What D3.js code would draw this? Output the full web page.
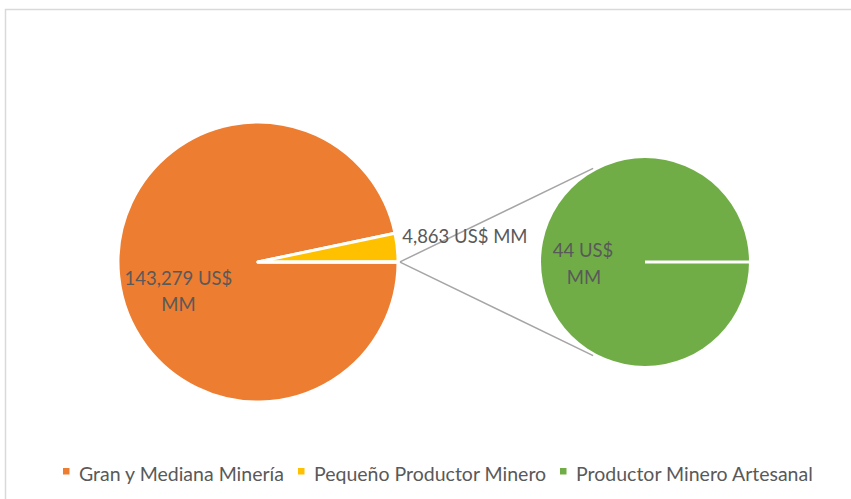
<!DOCTYPE html>
<html>
<head>
<meta charset="utf-8">
<script src="https://cdn.jsdelivr.net/npm/d3@7"></script>
<style>
  html, body { margin: 0; padding: 0; background: #fff; }
  svg { display: block; }
  text { font-family: "Lato", "Open Sans", sans-serif; fill: #595959; }
</style>
</head>
<body>
<svg id="chart" width="851" height="499"></svg>
<script>
// ---- data ----
const categories = ["Gran y Mediana Minería", "Pequeño Productor Minero", "Productor Minero Artesanal"];
const values = [143279, 4863, 44];           // US$ MM
const labels = ["143,279 US$ MM", "4,863 US$ MM", "44 US$ MM"];
const colors = ["#ED7D31", "#FFC000", "#70AD47"];
const secondaryCount = 1;                    // last N points go to the secondary pie

const W = 851, H = 499;
const svg = d3.select("#chart");

// frame
svg.append("rect")
  .attr("x", 5.5).attr("y", 9.5)
  .attr("width", W + 10).attr("height", H + 10)
  .attr("fill", "none").attr("stroke", "#d9d9d9").attr("stroke-width", 1.5);

// main pie data: first points + "other" summary
const mainVals = values.slice(0, values.length - secondaryCount);
const secVals = values.slice(values.length - secondaryCount);
const otherSum = d3.sum(secVals);
const mainData = mainVals.map((v, i) => ({ v, i }));
mainData.push({ v: otherSum, i: -1 });

const total = d3.sum(mainData, d => d.v);
const otherAngle = otherSum / total * 2 * Math.PI;
const start = Math.PI / 2 + otherAngle / 2;

const mainC = { x: 258, y: 262 }, mainR = 140;
const secC = { x: 645, y: 262 }, secR = 104;

const pieMain = d3.pie().value(d => d.v).sort(null)
  .startAngle(start).endAngle(start + 2 * Math.PI);
const arcsMain = pieMain(mainData);

const arcMain = d3.arc().innerRadius(0).outerRadius(mainR);

const gMain = svg.append("g").attr("transform", `translate(${mainC.x},${mainC.y})`);
gMain.selectAll("path").data(arcsMain).enter().append("path")
  .attr("d", arcMain)
  .attr("fill", d => d.data.i >= 0 ? colors[d.data.i] : colors[2])
  .attr("stroke", "#fff").attr("stroke-width", 3).attr("stroke-linejoin", "round");

// secondary pie
const secData = secVals.map((v, k) => ({ v, i: values.length - secondaryCount + k }));
const pieSec = d3.pie().value(d => d.v).sort(null)
  .startAngle(Math.PI / 2).endAngle(Math.PI / 2 + 2 * Math.PI);
const arcsSec = pieSec(secData);
const arcSec = d3.arc().innerRadius(0).outerRadius(secR);
const gSec = svg.append("g").attr("transform", `translate(${secC.x},${secC.y})`);
gSec.selectAll("path").data(arcsSec).enter().append("path")
  .attr("d", arcSec)
  .attr("fill", d => colors[d.data.i])
  .attr("stroke", "none");
// slice boundary line (Excel draws the border of the single slice)
gSec.selectAll("line.sep").data(arcsSec).enter().append("line")
  .attr("x1", 0).attr("y1", 0)
  .attr("x2", d => secR * Math.sin(d.startAngle))
  .attr("y2", d => -secR * Math.cos(d.startAngle))
  .attr("stroke", "#fff").attr("stroke-width", 3);

// connector lines from the "other" slice to the secondary pie
const otherArc = arcsMain[arcsMain.length - 1];
const pAng = [otherArc.startAngle, otherArc.endAngle];
const connAng = 61 * Math.PI / 180;
[-1, 1].forEach((s, k) => {
  const a = pAng[k];
  const x1 = mainC.x + mainR * Math.sin(a) + 2;
  const y1 = mainC.y - mainR * Math.cos(a);
  const x2 = secC.x - (secR + 3) * Math.cos(connAng);
  const y2 = secC.y + s * (secR + 3) * Math.sin(connAng);
  svg.append("line")
    .attr("x1", x1).attr("y1", y1).attr("x2", x2).attr("y2", y2)
    .attr("stroke", "#a5a5a5").attr("stroke-width", 1.5);
});

// labels
const fs = 18.5, lh = 26.5, legFs = 19.5;
function polar(c, r, ang) { return [c.x + r * Math.sin(ang), c.y - r * Math.cos(ang)]; }

// orange (inside, two lines)
{
  const d = arcsMain[0];
  const mid = (d.startAngle + d.endAngle) / 2;
  const [x, y] = polar(mainC, 85, mid);
  const parts = labels[0].split(" US$ ");
  const t = svg.append("text").attr("text-anchor", "middle").attr("font-size", fs)
    .attr("x", x + 5).attr("y", y + 14);
  t.append("tspan").attr("x", x + 5).attr("dy", 0).text(parts[0] + " US$");
  t.append("tspan").attr("x", x + 5).attr("dy", lh).text("MM");
}
// yellow (outside, one line)
{
  const d = arcsMain[1];
  const mid = (d.startAngle + d.endAngle) / 2;
  const [x, y] = polar(mainC, mainR + 5, mid);
  svg.append("text").attr("text-anchor", "start").attr("font-size", fs)
    .attr("x", x).attr("y", y - 4).text(labels[1]);
}
// green (inside secondary pie, two lines)
{
  const d = arcsSec[0];
  const mid = (d.startAngle + d.endAngle) / 2;
  const [x, y] = polar(secC, 62, mid);
  const parts = labels[2].split(" US$ ");
  const t = svg.append("text").attr("text-anchor", "middle").attr("font-size", fs)
    .attr("x", x).attr("y", y - 5);
  t.append("tspan").attr("x", x).attr("dy", 0).text(parts[0] + " US$");
  t.append("tspan").attr("x", x + 1).attr("dy", lh).text("MM");
}

// legend
const legY = 481;
const legX = [63, 298, 560];
const lg = svg.append("g");
categories.forEach((c, i) => {
  lg.append("rect").attr("x", legX[i]).attr("y", legY - 13).attr("width", 6.5).attr("height", 6.5)
    .attr("fill", colors[i]);
  lg.append("text").attr("x", legX[i] + 16).attr("y", legY).attr("font-size", legFs).text(c);
});
</script>
</body>
</html>
